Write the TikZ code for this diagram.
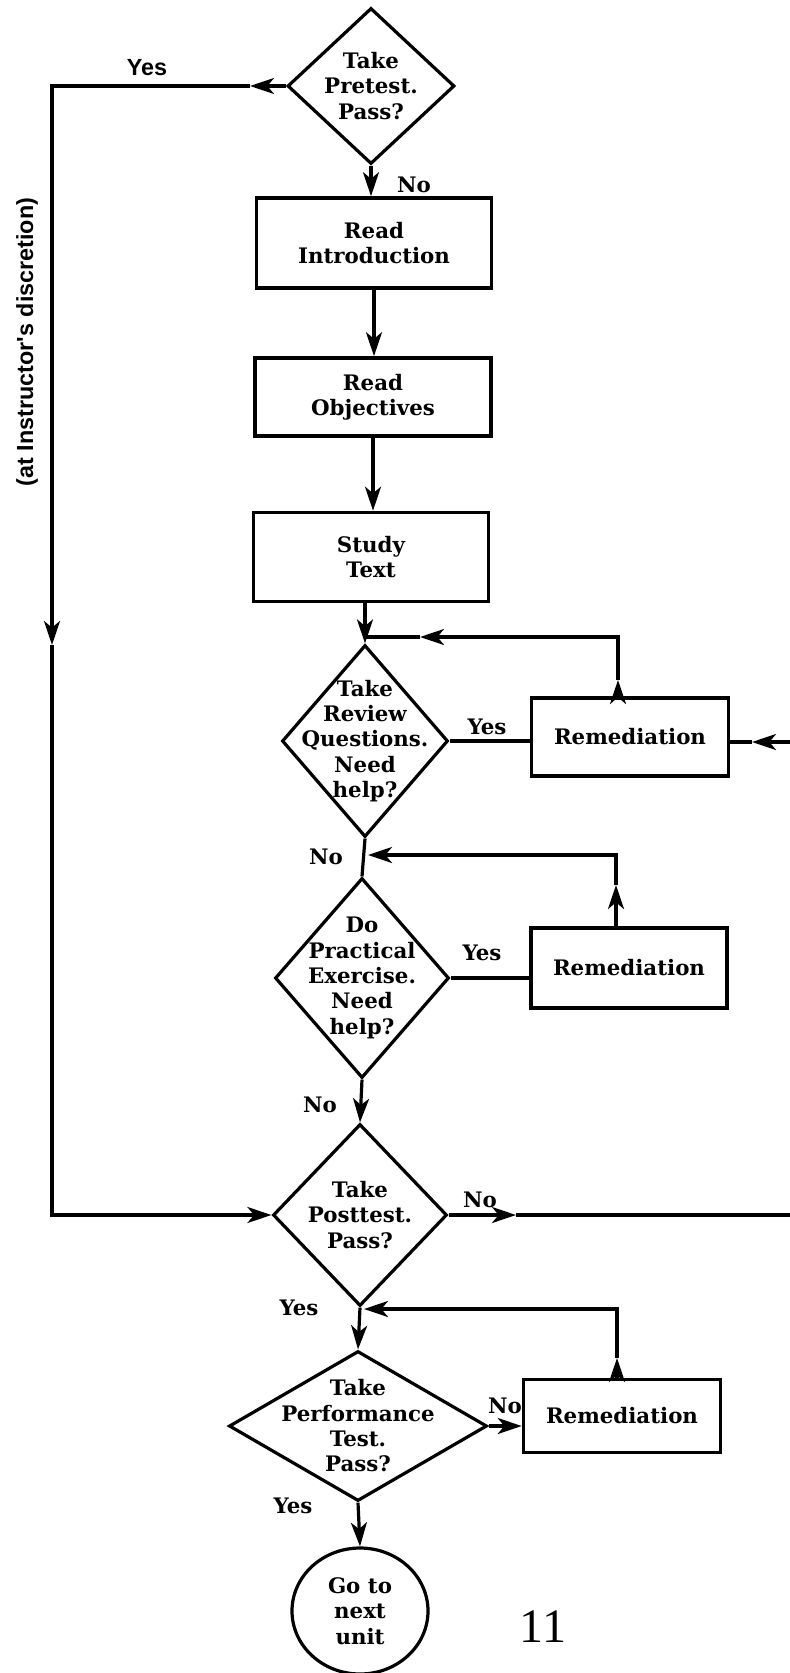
\documentclass[tikz,border=0pt]{standalone}
\usepackage{fontspec}
\setmainfont{DejaVu Serif}
\newfontfamily\labfont{Liberation Sans}
\newfontfamily\numfont{Liberation Serif}
\usetikzlibrary{arrows.meta,shapes.geometric}
\def\px{0.75pt}
\begin{document}
\begin{tikzpicture}[x=0.75pt,y=-0.75pt,
  ln/.style={line width=2.4pt, line join=miter},
  arr/.style={ln,-{Stealth[length=18pt,width=12pt,inset=5pt]}},
  txt/.style={font=\fontsize{16}{19}\selectfont\bfseries, align=center},
  boxnode/.style={draw, line width=2.7pt, rectangle, txt, inner sep=0pt},
  dia/.style={draw, line width=2.4pt, diamond, inner sep=0pt},
  lbl/.style={txt, inner sep=0pt},
  sidelbl/.style={font=\labfont\fontsize{17.5}{20}\selectfont\bfseries, inner sep=0pt},
]
\useasboundingbox (0,0) rectangle (789,1673);

% nodes
\node[dia, minimum width=167*\px, minimum height=156*\px,
  label={[lbl]center:Take\\Pretest.\\Pass?}] (pre) at (371,86) {};
\node[boxnode, minimum width=235*\px, minimum height=90*\px] (intro) at (374,243) {Read\\Introduction};
\node[boxnode, minimum width=236*\px, minimum height=78*\px] (obj) at (373,397) {Read\\Objectives};
\node[boxnode, minimum width=235*\px, minimum height=89*\px] (study) at (371,557) {Study\\Text};
\node[dia, minimum width=166*\px, minimum height=192*\px,
  label={[lbl]center:Take\\Review\\Questions.\\Need\\help?}] (review) at (365,741) {};
\node[boxnode, minimum width=197*\px, minimum height=78*\px] (rem1) at (630,737) {Remediation};
\node[dia, minimum width=174*\px, minimum height=200*\px,
  label={[lbl]center:Do\\Practical\\Exercise.\\Need\\help?}] (prac) at (362,978) {};
\node[boxnode, minimum width=196*\px, minimum height=80*\px] (rem2) at (629,968) {Remediation};
\node[dia, minimum width=174*\px, minimum height=182*\px,
  label={[lbl]center:Take\\Posttest.\\Pass?}] (post) at (360,1215) {};
\node[dia, minimum width=258*\px, minimum height=150*\px,
  label={[lbl]center:Take\\Performance\\Test.\\Pass?}] (perf) at (358,1426) {};
\node[boxnode, minimum width=197*\px, minimum height=73*\px] (rem3) at (622,1416) {Remediation};
\node[draw, line width=2.4pt, ellipse, minimum width=136*\px, minimum height=126*\px, inner sep=0pt, txt] (goal) at (360,1611) {Go to\\next\\unit};

% coordinates
\coordinate (c1) at (52,86);
\coordinate (a1) at (250,86);
\coordinate (a2) at (52,645);
\coordinate (c2) at (52,1215);
\coordinate (j1) at (365,637);
\coordinate (l1) at (618,637);
\coordinate (a3) at (618,680);
\coordinate (a4) at (420,637);
\coordinate (e1) at (792,742);
\coordinate (a5) at (752,742);
\coordinate (j2) at (368,855);
\coordinate (l2) at (616,855);
\coordinate (a6) at (616,885);
\coordinate (a7) at (516,1215);
\coordinate (e2) at (792,1215);
\coordinate (j3) at (364,1309);
\coordinate (l3) at (617,1309);
\coordinate (a8) at (617,1358);

% main column
\draw[arr] (pre.south) -- (pre.south |- intro.north);
\draw[arr] (intro.south) -- (intro.south |- obj.north);
\draw[arr] (obj.south) -- (obj.south |- study.north);
\draw[arr] (study.south -| review.north) -- (review.north);
\draw[ln] (review.south) -- (prac.north);
\draw[arr] (prac.south) -- (post.north);
\draw[arr] (post.south) -- (perf.north);
\draw[arr] (perf.south) -- (goal.north);

% pretest yes branch
\draw[arr] (pre.west) -- (a1);
\draw[arr] (a1) -- (c1) -- (a2);
\draw[arr] (a2) -- (c2) -- (post.west);

% review loop
\draw[ln] (review.east) -- (review.east -| rem1.west);
\draw[arr] (rem1.north -| l1) -- (a3);
\draw[arr] (a3) -- (l1) -- (a4);
\draw[ln] (a4) -- (j1);
\draw[arr] (e1) -- (a5);
\draw[ln] (a5) -- (a5 -| rem1.east);

% practical loop
\draw[ln] (prac.east) -- (prac.east -| rem2.west);
\draw[arr] (rem2.north -| l2) -- (a6);
\draw[arr] (a6) -- (l2) -- (j2);

% posttest no
\draw[arr] (post.east) -- (a7);
\draw[ln] (a7) -- (e2);

% performance loop
\draw[arr] (perf.east) -- (perf.east -| rem3.west);
\draw[arr] (rem3.north -| l3) -- (a8);
\draw[arr] (a8) -- (l3) -- (j3);

% labels
\node[sidelbl] (yes0) at (147,68) {Yes};
\node[sidelbl, rotate=90] (disc) at (27,342) {(at Instructor's discretion)};
\node[lbl] (no0) at (414,185) {No};
\node[lbl] (yes1) at (487,727) {Yes};
\node[lbl] (no1) at (326,857) {No};
\node[lbl] (yes2) at (482,953) {Yes};
\node[lbl] (no2) at (320,1105) {No};
\node[lbl] (no3) at (480,1200) {No};
\node[lbl] (yes3) at (299,1308) {Yes};
\node[lbl] (no4) at (505,1406) {No};
\node[lbl] (yes4) at (293,1506) {Yes};
\node[font=\numfont\fontsize{36}{40}\selectfont, inner sep=0pt] (pg) at (543,1627) {11};
\end{tikzpicture}
\end{document}
